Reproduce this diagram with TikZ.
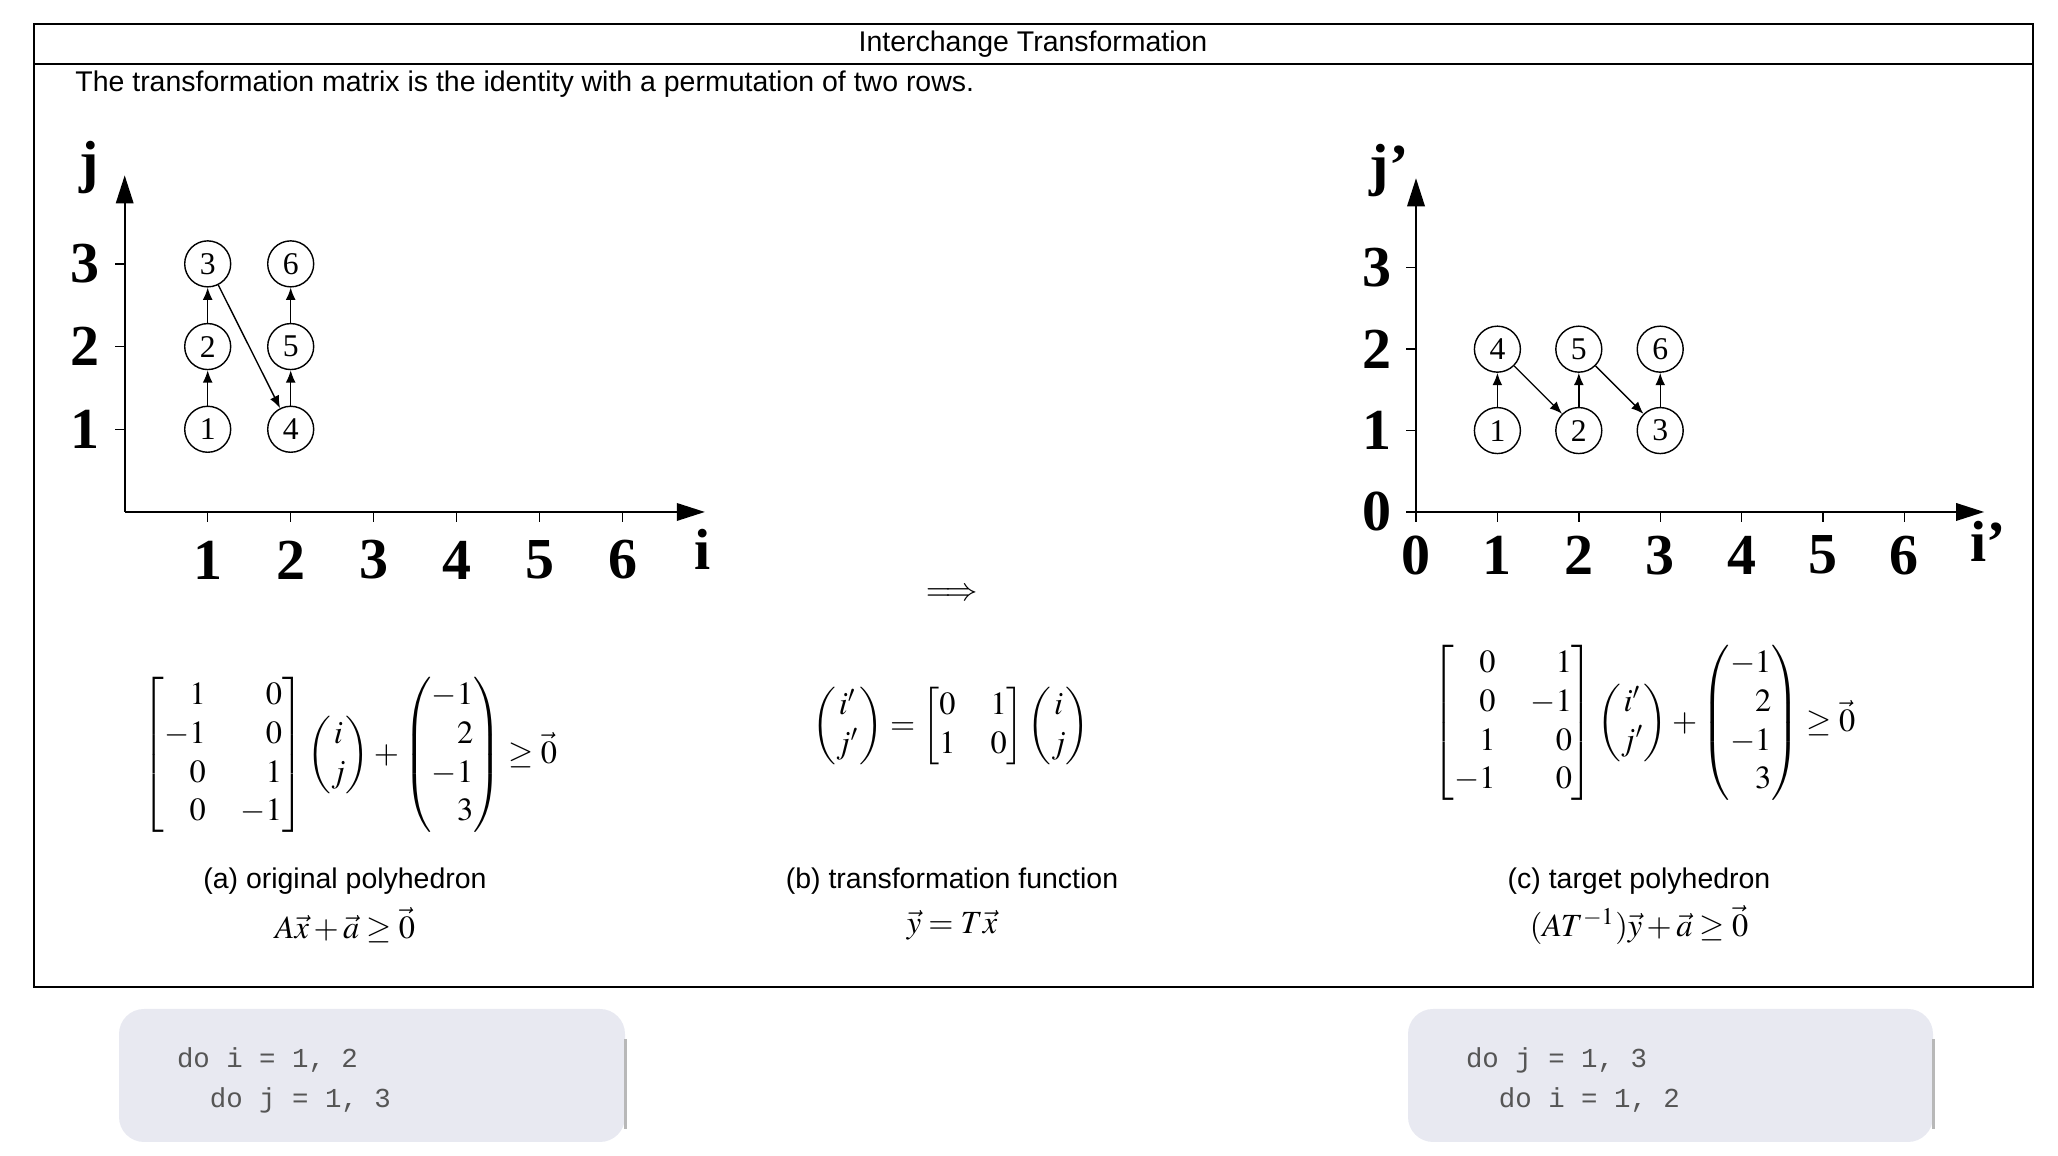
\documentclass[tikz,border=0pt]{standalone}
\usepackage{mathtools}
\usepackage{mathptmx}
\usepackage[no-math]{fontspec}
\setmainfont{Liberation Sans}
\setmonofont{Liberation Mono}
\newfontfamily\serifnum{Liberation Serif}
\usetikzlibrary{arrows.meta, positioning}
\definecolor{codebg}{RGB}{232,233,241}
\definecolor{codegray}{RGB}{85,85,85}
\definecolor{codeedge}{RGB}{184,184,184}
\newcommand{\codefont}{\ttfamily\fontsize{7.8}{11.4}\selectfont\spaceskip=0.6em\relax}

\begin{document}
\begin{tikzpicture}[
  pt/.style={draw, circle, minimum size=0.46cm, inner sep=0pt, line width=0.4pt, font=\serifnum\fontsize{9}{10}\selectfont},
  arr/.style={-{Latex[length=3.5pt,width=2.8pt]}, line width=0.4pt},
  axis/.style={-{Triangle[length=8pt,width=5pt]}, line width=0.5pt},
  ticklab/.style={font=\serifnum\bfseries\fontsize{16.5}{18}\selectfont},
  txt/.style={font=\fontsize{8.1}{9.7}\selectfont},
  mth/.style={font=\fontsize{9.2}{11}\selectfont},
  codebox/.style={fill=codebg, rounded corners=0.25cm, minimum height=1.33cm},
  code/.style={anchor=west, inner sep=0pt, align=left, text=codegray, font=\codefont}
]
\useasboundingbox (0,0) rectangle (20.58,11.56);

% frame and header
\draw[line width=0.6pt] (0.34,1.69) rectangle (20.33,11.32);
\draw[line width=0.6pt] (0.34,10.92) -- (20.33,10.92);
\node[txt] (title) at (10.33,11.12) {Interchange Transformation};
\node[txt, anchor=west] (intro) at (0.63,10.72) {The transformation matrix is the identity with a permutation of two rows.};

% original iteration space
\begin{scope}[shift={(1.247,6.44)}, x=0.83cm, y=0.827cm]
  \draw[axis] (0,0) -- (6.99,0);
  \draw[axis] (0,0) -- (0,4.07);
  \foreach \k in {1,...,6} {
    \draw[line width=0.4pt] (\k,0) -- ++(0,-0.12);
    \node[ticklab] at (\k,-0.58) {\k};
  }
  \foreach \k in {1,2,3} {
    \draw[line width=0.4pt] (0,\k) -- ++(-0.12,0);
    \node[ticklab] at (-0.48,\k) {\k};
  }
  \node[ticklab] (jlab) at (-0.43,4.16) {j};
  \node[ticklab] (ilab) at (6.96,-0.45) {i};
  \node[pt] (a1) at (1,1) {1};
  \node[pt] (a2) at (1,2) {2};
  \node[pt] (a3) at (1,3) {3};
  \node[pt] (a4) at (2,1) {4};
  \node[pt] (a5) at (2,2) {5};
  \node[pt] (a6) at (2,3) {6};
  \draw[arr] (a1) -- (a2);
  \draw[arr] (a2) -- (a3);
  \draw[arr] (a3) -- (a4);
  \draw[arr] (a4) -- (a5);
  \draw[arr] (a5) -- (a6);
\end{scope}

% transformed iteration space
\begin{scope}[shift={(14.16,6.44)}, x=0.814cm, y=0.814cm]
  \draw[axis] (0,0) -- (6.98,0);
  \draw[axis] (0,0) -- (0,4.1);
  \foreach \k in {0,...,6} {
    \draw[line width=0.4pt] (\k,0) -- ++(0,-0.12);
    \node[ticklab] at (\k,-0.53) {\k};
  }
  \foreach \k in {0,1,2,3} {
    \draw[line width=0.4pt] (0,\k) -- ++(-0.12,0);
    \node[ticklab] at (-0.48,\k) {\k};
  }
  \node[ticklab] (jplab) at (-0.33,4.19) {j’};
  \node[ticklab] (iplab) at (7.03,-0.36) {i’};
  \node[pt] (b1) at (1,1) {1};
  \node[pt] (b2) at (2,1) {2};
  \node[pt] (b3) at (3,1) {3};
  \node[pt] (b4) at (1,2) {4};
  \node[pt] (b5) at (2,2) {5};
  \node[pt] (b6) at (3,2) {6};
  \draw[arr] (b1) -- (b4);
  \draw[arr] (b4) -- (b2);
  \draw[arr] (b2) -- (b5);
  \draw[arr] (b5) -- (b3);
  \draw[arr] (b3) -- (b6);
\end{scope}

\node[mth] (impl) at (9.52,5.61) {$\Longrightarrow$};

% formulas
\node[mth] (eqa) at (3.50,4.01) {$\begin{bmatrix*}[r] 1 & 0\\ -1 & 0\\ 0 & 1\\ 0 & -1 \end{bmatrix*}\begin{pmatrix} i\\ j\end{pmatrix}+\begin{pmatrix*}[r] -1\\ 2\\ -1\\ 3\end{pmatrix*}\geq\vec{0}$};
\node[mth] (eqb) at (9.51,4.30) {$\begin{pmatrix} i'\\ j'\end{pmatrix}=\begin{bmatrix} 0 & 1\\ 1 & 0\end{bmatrix}\begin{pmatrix} i\\ j\end{pmatrix}$};
\node[mth] (eqc) at (16.44,4.33) {$\begin{bmatrix*}[r] 0 & 1\\ 0 & -1\\ 1 & 0\\ -1 & 0 \end{bmatrix*}\begin{pmatrix} i'\\ j'\end{pmatrix}+\begin{pmatrix*}[r] -1\\ 2\\ -1\\ 3\end{pmatrix*}\geq\vec{0}$};

\node[txt] (capa) at (3.45,2.75) {(a) original polyhedron};
\node[mth] (fa) at (3.45,2.31) {$A\vec{x}+\vec{a}\geq\vec{0}$};
\node[txt] (capb) at (9.52,2.75) {(b) transformation function};
\node[mth] (fb) at (9.52,2.31) {$\vec{y}=T\vec{x}$};
\node[txt] (capc) at (16.39,2.75) {(c) target polyhedron};
\node[mth] (fc) at (16.39,2.31) {$(AT^{-1})\vec{y}+\vec{a}\geq\vec{0}$};

% loop nests
\node[codebox, minimum width=5.06cm] (codea) at (3.72,0.805) {};
\node[codebox, minimum width=5.25cm] (codeb) at (16.705,0.805) {};
\node[code] (codetxta) at ([xshift=0.58cm, yshift=-0.045cm]codea.west) {do i = 1, 2\\\ \ do j = 1, 3};
\node[code] (codetxtb) at ([xshift=0.58cm, yshift=-0.045cm]codeb.west) {do j = 1, 3\\\ \ do i = 1, 2};
\draw[codeedge, line width=1pt] ([yshift=-0.31cm]codea.north east) -- ([yshift=0.14cm]codea.south east);
\draw[codeedge, line width=1pt] ([yshift=-0.31cm]codeb.north east) -- ([yshift=0.14cm]codeb.south east);
\end{tikzpicture}
\end{document}
